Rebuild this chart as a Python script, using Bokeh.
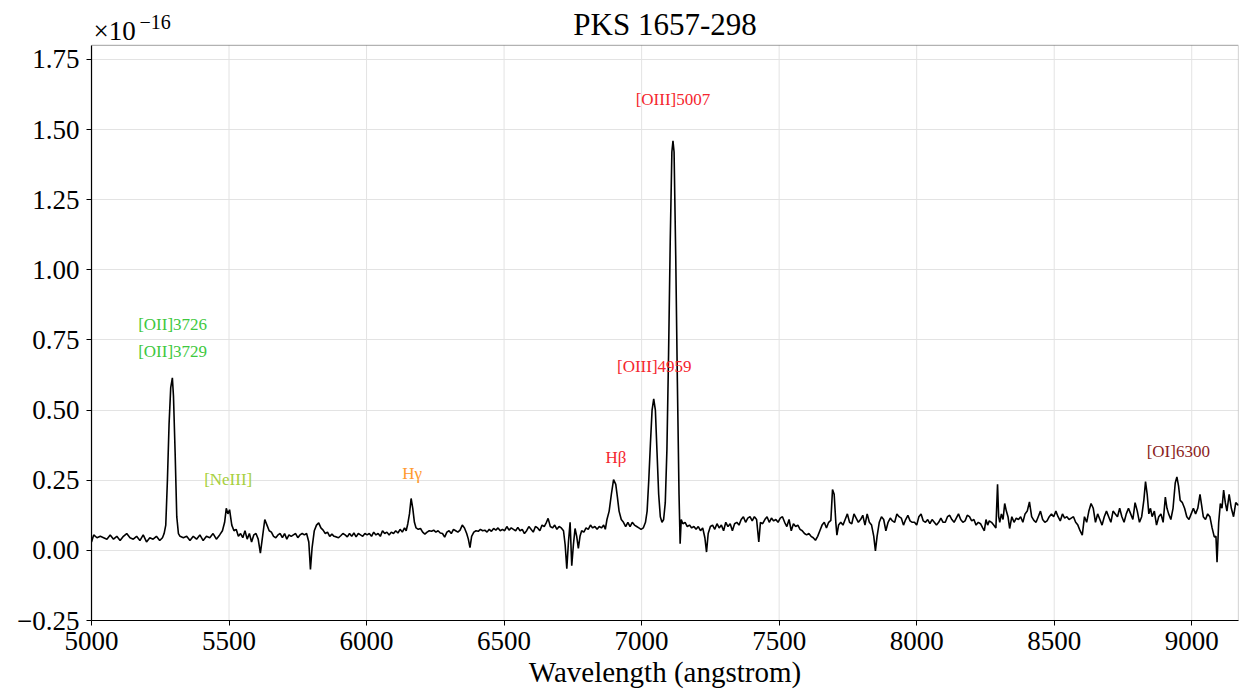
from bokeh.plotting import figure
from bokeh.models import Range1d, FixedTicker, Label, ColumnDataSource, BoxAnnotation
from bokeh.embed import file_html
from bokeh.resources import INLINE
from bokeh.core.properties import value

FONT = "Liberation Serif"

# Observed spectrum of PKS 1657-298 (flux in units of 1e-16)
wavelength = [
    5000, 5008, 5020, 5032, 5044, 5056, 5068, 5080, 5092, 5104, 5116, 5128, 5140, 5152, 5164, 5176,
    5188, 5200, 5212, 5224, 5236, 5248, 5258, 5264, 5270, 5276, 5282, 5288, 5294, 5298, 5304, 5310,
    5316, 5322, 5334, 5346, 5358, 5370, 5382, 5394, 5406, 5418, 5430, 5442, 5454, 5466, 5476, 5484,
    5490, 5496, 5502, 5510, 5518, 5526, 5534, 5542, 5550, 5558, 5566, 5574, 5582, 5590, 5598, 5606,
    5614, 5622, 5630, 5638, 5646, 5654, 5662, 5670, 5678, 5686, 5694, 5702, 5710, 5718, 5726, 5734,
    5742, 5750, 5758, 5766, 5774, 5782, 5790, 5796, 5802, 5810, 5818, 5826, 5834, 5842, 5850, 5858,
    5866, 5874, 5882, 5890, 5898, 5906, 5914, 5922, 5930, 5938, 5946, 5954, 5962, 5970, 5978, 5986,
    5994, 6002, 6010, 6018, 6026, 6034, 6042, 6050, 6058, 6066, 6074, 6082, 6090, 6098, 6106, 6114,
    6122, 6130, 6138, 6144, 6150, 6156, 6162, 6168, 6174, 6180, 6188, 6196, 6204, 6212, 6220, 6228,
    6236, 6244, 6252, 6260, 6268, 6276, 6284, 6292, 6300, 6308, 6316, 6324, 6332, 6340, 6348, 6356,
    6364, 6370, 6376, 6382, 6390, 6398, 6406, 6414, 6422, 6430, 6438, 6446, 6454, 6462, 6470, 6478,
    6486, 6494, 6502, 6510, 6518, 6526, 6534, 6542, 6550, 6558, 6566, 6574, 6582, 6590, 6598, 6606,
    6614, 6622, 6630, 6638, 6646, 6654, 6660, 6668, 6676, 6684, 6692, 6700, 6708, 6716, 6722, 6728,
    6734, 6740, 6746, 6752, 6758, 6764, 6770, 6776, 6782, 6790, 6798, 6806, 6814, 6822, 6830, 6838,
    6846, 6854, 6862, 6868, 6874, 6882, 6890, 6898, 6906, 6912, 6918, 6926, 6934, 6942, 6950, 6958,
    6966, 6974, 6982, 6990, 6998, 7006, 7014, 7020, 7026, 7032, 7038, 7044, 7050, 7056, 7062, 7068,
    7074, 7080, 7086, 7092, 7098, 7104, 7110, 7114, 7118, 7124, 7130, 7136, 7140, 7144, 7150, 7158,
    7166, 7174, 7182, 7190, 7198, 7206, 7214, 7222, 7230, 7236, 7242, 7250, 7258, 7266, 7274, 7282,
    7290, 7298, 7306, 7314, 7322, 7330, 7338, 7346, 7354, 7362, 7370, 7378, 7386, 7394, 7402, 7410,
    7418, 7426, 7432, 7440, 7448, 7456, 7464, 7472, 7480, 7488, 7496, 7504, 7512, 7520, 7528, 7536,
    7544, 7552, 7560, 7568, 7576, 7584, 7592, 7600, 7608, 7616, 7624, 7632, 7640, 7648, 7656, 7664,
    7672, 7680, 7688, 7694, 7700, 7706, 7710, 7716, 7724, 7732, 7740, 7748, 7756, 7764, 7772, 7780,
    7788, 7796, 7804, 7812, 7820, 7828, 7836, 7844, 7850, 7856, 7864, 7872, 7880, 7888, 7896, 7904,
    7912, 7920, 7928, 7936, 7944, 7952, 7960, 7968, 7976, 7984, 7992, 8000, 8008, 8016, 8024, 8032,
    8040, 8048, 8056, 8064, 8072, 8080, 8088, 8096, 8104, 8112, 8120, 8128, 8136, 8144, 8152, 8160,
    8168, 8176, 8184, 8192, 8200, 8208, 8216, 8224, 8232, 8240, 8246, 8252, 8258, 8264, 8272, 8280,
    8288, 8294, 8298, 8302, 8308, 8314, 8320, 8326, 8332, 8338, 8346, 8354, 8362, 8370, 8378, 8386,
    8394, 8402, 8410, 8418, 8426, 8434, 8442, 8450, 8458, 8466, 8474, 8482, 8490, 8498, 8506, 8514,
    8522, 8530, 8538, 8546, 8554, 8562, 8570, 8578, 8586, 8594, 8602, 8610, 8618, 8626, 8634, 8642,
    8650, 8658, 8666, 8674, 8682, 8690, 8698, 8706, 8714, 8722, 8730, 8738, 8746, 8754, 8762, 8770,
    8778, 8786, 8794, 8802, 8810, 8818, 8826, 8832, 8838, 8844, 8850, 8856, 8864, 8872, 8880, 8888,
    8896, 8904, 8910, 8916, 8924, 8932, 8940, 8946, 8952, 8958, 8966, 8974, 8982, 8990, 8998, 9006,
    9014, 9022, 9030, 9036, 9042, 9050, 9058, 9066, 9074, 9082, 9088, 9092, 9098, 9104, 9110, 9116,
    9122, 9128, 9136, 9144, 9152, 9160, 9170,
]

flux = [
    0.030, 0.055, 0.045, 0.050, 0.045, 0.040, 0.055, 0.040, 0.050, 0.035, 0.050, 0.060, 0.045, 0.040, 0.050, 0.035,
    0.055, 0.030, 0.045, 0.040, 0.050, 0.035, 0.045, 0.060, 0.090, 0.250, 0.450, 0.580, 0.615, 0.550, 0.350, 0.120,
    0.060, 0.050, 0.045, 0.050, 0.035, 0.050, 0.040, 0.055, 0.035, 0.050, 0.045, 0.060, 0.040, 0.055, 0.070, 0.100,
    0.150, 0.130, 0.145, 0.090, 0.070, 0.075, 0.050, 0.060, 0.045, 0.070, 0.040, 0.060, 0.030, 0.055, 0.060, 0.040,
    -0.010, 0.050, 0.110, 0.090, 0.070, 0.065, 0.050, 0.045, 0.055, 0.060, 0.045, 0.060, 0.040, 0.055, 0.050, 0.055,
    0.060, 0.045, 0.055, 0.060, 0.055, 0.060, 0.030, -0.068, 0.010, 0.070, 0.090, 0.098, 0.080, 0.072, 0.060, 0.065,
    0.050, 0.058, 0.050, 0.048, 0.045, 0.052, 0.060, 0.055, 0.048, 0.060, 0.050, 0.062, 0.048, 0.060, 0.055, 0.050,
    0.060, 0.055, 0.060, 0.050, 0.065, 0.055, 0.060, 0.050, 0.070, 0.060, 0.065, 0.055, 0.065, 0.060, 0.070, 0.062,
    0.075, 0.065, 0.080, 0.070, 0.095, 0.130, 0.185, 0.150, 0.100, 0.080, 0.075, 0.078, 0.065, 0.058, 0.065, 0.070,
    0.068, 0.072, 0.065, 0.070, 0.062, 0.060, 0.047, 0.065, 0.070, 0.060, 0.075, 0.070, 0.065, 0.072, 0.090, 0.080,
    0.060, 0.040, 0.010, 0.050, 0.065, 0.070, 0.068, 0.075, 0.070, 0.072, 0.065, 0.075, 0.068, 0.078, 0.072, 0.080,
    0.070, 0.075, 0.070, 0.085, 0.072, 0.080, 0.075, 0.070, 0.082, 0.070, 0.075, 0.060, 0.070, 0.085, 0.075, 0.065,
    0.085, 0.080, 0.070, 0.090, 0.085, 0.100, 0.114, 0.085, 0.080, 0.090, 0.075, 0.085, 0.080, 0.070, 0.020, -0.065,
    0.030, 0.100, -0.055, 0.020, 0.078, 0.050, 0.007, 0.050, 0.070, 0.065, 0.080, 0.075, 0.090, 0.080, 0.085, 0.075,
    0.085, 0.080, 0.090, 0.075, 0.110, 0.140, 0.200, 0.252, 0.235, 0.190, 0.140, 0.110, 0.100, 0.085, 0.100, 0.085,
    0.100, 0.090, 0.085, 0.080, 0.075, 0.080, 0.100, 0.140, 0.250, 0.380, 0.500, 0.540, 0.500, 0.350, 0.200, 0.120,
    0.100, 0.110, 0.170, 0.360, 0.700, 1.100, 1.420, 1.460, 1.420, 1.050, 0.600, 0.200, 0.024, 0.110, 0.095, 0.100,
    0.085, 0.090, 0.080, 0.085, 0.075, 0.085, 0.070, 0.080, 0.045, -0.006, 0.060, 0.085, 0.090, 0.075, 0.095, 0.080,
    0.090, 0.070, 0.100, 0.085, 0.095, 0.070, 0.095, 0.100, 0.090, 0.110, 0.120, 0.100, 0.115, 0.120, 0.105, 0.120,
    0.110, 0.030, 0.100, 0.095, 0.110, 0.120, 0.100, 0.115, 0.105, 0.110, 0.100, 0.115, 0.120, 0.100, 0.085, 0.110,
    0.070, 0.095, 0.085, 0.090, 0.075, 0.070, 0.060, 0.055, 0.060, 0.050, 0.045, 0.036, 0.050, 0.070, 0.090, 0.100,
    0.080, 0.100, 0.107, 0.217, 0.200, 0.100, 0.054, 0.090, 0.100, 0.090, 0.110, 0.130, 0.100, 0.095, 0.130, 0.115,
    0.100, 0.110, 0.125, 0.090, 0.130, 0.100, 0.090, 0.050, -0.002, 0.050, 0.100, 0.120, 0.110, 0.070, 0.100, 0.115,
    0.105, 0.100, 0.130, 0.120, 0.115, 0.090, 0.110, 0.125, 0.105, 0.100, 0.100, 0.090, 0.120, 0.130, 0.105, 0.100,
    0.110, 0.095, 0.110, 0.100, 0.090, 0.100, 0.115, 0.100, 0.100, 0.120, 0.125, 0.110, 0.100, 0.115, 0.130, 0.110,
    0.100, 0.105, 0.125, 0.120, 0.105, 0.110, 0.090, 0.100, 0.095, 0.080, 0.070, 0.110, 0.090, 0.105, 0.100, 0.090,
    0.080, 0.236, 0.120, 0.100, 0.130, 0.110, 0.167, 0.140, 0.120, 0.078, 0.120, 0.100, 0.115, 0.110, 0.120, 0.100,
    0.130, 0.140, 0.173, 0.120, 0.107, 0.100, 0.120, 0.140, 0.110, 0.100, 0.105, 0.120, 0.130, 0.120, 0.140, 0.120,
    0.105, 0.130, 0.115, 0.120, 0.110, 0.115, 0.120, 0.100, 0.090, 0.070, 0.054, 0.120, 0.100, 0.140, 0.167, 0.150,
    0.100, 0.130, 0.110, 0.090, 0.120, 0.140, 0.120, 0.100, 0.140, 0.130, 0.120, 0.150, 0.120, 0.100, 0.130, 0.150,
    0.130, 0.110, 0.170, 0.140, 0.100, 0.120, 0.180, 0.245, 0.200, 0.130, 0.150, 0.120, 0.140, 0.090, 0.120, 0.130,
    0.100, 0.190, 0.150, 0.130, 0.110, 0.150, 0.240, 0.262, 0.230, 0.178, 0.170, 0.150, 0.120, 0.110, 0.130, 0.150,
    0.130, 0.150, 0.200, 0.160, 0.120, 0.110, 0.130, 0.120, 0.080, 0.048, 0.050, -0.042, 0.100, 0.167, 0.150, 0.215,
    0.170, 0.140, 0.200, 0.150, 0.120, 0.170, 0.160,
]

# Emission-line identifications (observed positions and label heights)
line_names = ["[OII]3726", "[OII]3729", "[NeIII]", "H\u03b3", "H\u03b2",
              "[OIII]4959", "[OIII]5007", "[OI]6300"]
line_wave = [5295, 5295, 5497, 6166, 6907, 7046, 7114, 8951]
line_label_y = [0.805, 0.708, 0.254, 0.275, 0.330, 0.655, 1.606, 0.354]
line_colors = ["#3ec83e", "#3ec83e", "#a8d040", "#ff9a2e", "#f5262e",
               "#f5262e", "#f5262e", "#8b1e1e"]

x_ticks = [5000, 5500, 6000, 6500, 7000, 7500, 8000, 8500, 9000]
y_ticks = [-0.25, 0.0, 0.25, 0.5, 0.75, 1.0, 1.25, 1.5, 1.75]
y_tick_labels = ["\u22120.25", "0.00", "0.25", "0.50", "0.75", "1.00", "1.25", "1.50", "1.75"]

# Axes box limits; the canvas keeps some headroom above the box for the title
X_MIN, X_MAX = 5000, 9170
Y_MIN, Y_MAX = -0.25, 1.80
Y_CANVAS_TOP = 1.96

p = figure(width=1239, height=690, output_backend="svg", toolbar_location=None,
           x_range=Range1d(X_MIN, X_MAX), y_range=Range1d(Y_MIN, Y_CANVAS_TOP),
           min_border_left=91, min_border_right=1, min_border_top=0, min_border_bottom=70)

p.outline_line_color = None
p.background_fill_color = "white"
p.border_fill_color = "white"

for ax in (p.xaxis[0], p.yaxis[0]):
    ax.major_label_text_font = FONT
    ax.major_label_text_font_size = "27px"
    ax.major_label_text_color = "black"
    ax.axis_line_color = "black"
    ax.axis_line_width = 1.2
    ax.major_tick_line_color = "black"
    ax.major_tick_in = 0
    ax.major_tick_out = 5
    ax.minor_tick_in = 0
    ax.minor_tick_out = 0
    ax.axis_label_text_font = FONT
    ax.axis_label_text_font_style = "normal"
    ax.axis_label_text_font_size = "29px"
    ax.axis_label_text_color = "black"

p.xaxis.ticker = FixedTicker(ticks=x_ticks)
p.yaxis.ticker = FixedTicker(ticks=y_ticks)
p.yaxis.bounds = (Y_MIN, Y_MAX)
p.yaxis.major_label_overrides = {t: s for t, s in zip(y_ticks, y_tick_labels)}
p.xaxis.axis_label = "Wavelength (angstrom)"
p.xaxis.major_label_standoff = 6
p.xaxis.axis_label_standoff = 3
p.yaxis.major_label_standoff = 7

# grid: horizontal lines from the y grid, vertical lines stop at the box top
p.xgrid.visible = False
p.ygrid.grid_line_color = "#e3e3e3"
p.ygrid.grid_line_width = 1
p.segment(x0=x_ticks, y0=[Y_MIN] * len(x_ticks), x1=x_ticks, y1=[Y_MAX] * len(x_ticks),
          line_color="#e3e3e3", line_width=1)

src = ColumnDataSource(dict(wavelength=wavelength, flux=flux))
p.line("wavelength", "flux", source=src, line_color="black", line_width=1.6)

labels = ColumnDataSource(dict(x=line_wave, y=line_label_y, text=line_names, color=line_colors))
p.text("x", "y", text="text", source=labels, text_color="color",
       text_font=value(FONT), text_font_size="17px",
       text_align="center", text_baseline="middle")

# axes box
p.add_layout(BoxAnnotation(left=X_MIN, right=X_MAX, bottom=Y_MIN, top=Y_MAX,
                           fill_alpha=0, line_color="black", line_width=1.2, level="overlay"))

# title and the flux scale factor, above the box
p.add_layout(Label(x=(X_MIN + X_MAX) / 2, y=Y_MAX, text="PKS 1657-298", text_font=FONT,
                   text_font_size="31px", text_align="center", text_baseline="alphabetic",
                   y_offset=21, text_color="black"))
p.add_layout(Label(x=X_MIN, y=Y_MAX, text="\u00d710", text_font=FONT,
                   text_font_size="27px", text_align="left", text_baseline="alphabetic",
                   x_offset=2, y_offset=14, text_color="black"))
p.add_layout(Label(x=X_MIN, y=Y_MAX, text="\u221216", text_font=FONT,
                   text_font_size="20px", text_align="left", text_baseline="alphabetic",
                   x_offset=48, y_offset=23, text_color="black"))

open("out.html", "w").write(file_html(p, INLINE))
